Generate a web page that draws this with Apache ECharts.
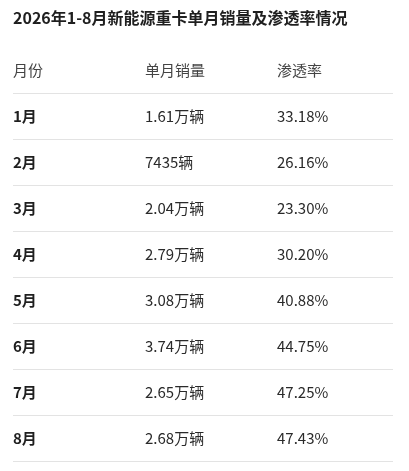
<!DOCTYPE html>
<html><head><meta charset="utf-8">
<script src="https://cdn.jsdelivr.net/npm/echarts@6/dist/echarts.min.js"></script>
<style>html,body{margin:0;padding:0;background:#fff}#c{width:409px;height:471px}</style>
</head><body><div id="c"></div>
<script>
var titleText = '2026年1-8月新能源重卡单月销量及渗透率情况';
var headers = ['月份', '单月销量', '渗透率'];
var months = ['1月', '2月', '3月', '4月', '5月', '6月', '7月', '8月'];
var sales = [16100, 7435, 20400, 27900, 30800, 37400, 26500, 26800];
var rates = [33.18, 26.16, 23.30, 30.20, 40.88, 44.75, 47.25, 47.43];

function fmtSales(v) { return v >= 10000 ? (v / 10000).toFixed(2) + '万辆' : v + '辆'; }
function fmtRate(v) { return v.toFixed(2) + '%'; }

var rowsCat = ['header'].concat(months);
var data = [];
data.push([0, 0, headers[0], 'h']);
data.push([1, 0, headers[1], 'h']);
data.push([2, 0, headers[2], 'h']);
months.forEach(function (m, i) {
  data.push([0, i + 1, m, 'm']);
  data.push([1, i + 1, fmtSales(sales[i]), 'v']);
  data.push([2, i + 1, fmtRate(rates[i]), 'v']);
});

var FONT = '"Noto Sans CJK SC", "Noto Sans", sans-serif';
var chart = echarts.init(document.getElementById('c'));
chart.setOption({
  animation: false,
  title: { text: titleText, left: 13, top: 10, padding: 0, textStyle: { fontSize: 16, fontWeight: 'bold', color: '#1f1f1f', fontFamily: FONT } },
  grid: { left: 13, right: 16, top: 48, height: 414 },
  xAxis: { type: 'value', min: 0, max: 380 / 132, show: false },
  yAxis: { type: 'category', data: rowsCat, inverse: true, show: false },
  series: [{
    type: 'custom',
    data: data,
    renderItem: function (params, api) {
      var col = api.value(0), row = api.value(1);
      var p = api.coord([col, row]);
      var band = api.size([0, 1])[1];
      var kind = data[params.dataIndex][3];
      var text = data[params.dataIndex][2];
      var children = [{
        type: 'text',
        style: {
          x: p[0], y: p[1] - 1, text: text,
          fill: kind === 'h' ? '#444' : (kind === 'm' ? '#1f1f1f' : '#2a2a2a'),
          font: (kind === 'm' ? 'bold ' : '') + '15px ' + FONT,
          textAlign: 'left', textVerticalAlign: 'middle'
        }
      }];
      if (col === 0) {
        var x0 = params.coordSys.x, w = params.coordSys.width;
        var yb = Math.round(p[1] + band / 2) - 0.5;
        children.push({
          type: 'line',
          shape: { x1: x0, y1: yb, x2: x0 + w, y2: yb },
          style: { stroke: '#e3e3e3', lineWidth: 1 }
        });
      }
      return { type: 'group', children: children };
    }
  }]
});
</script></body></html>
